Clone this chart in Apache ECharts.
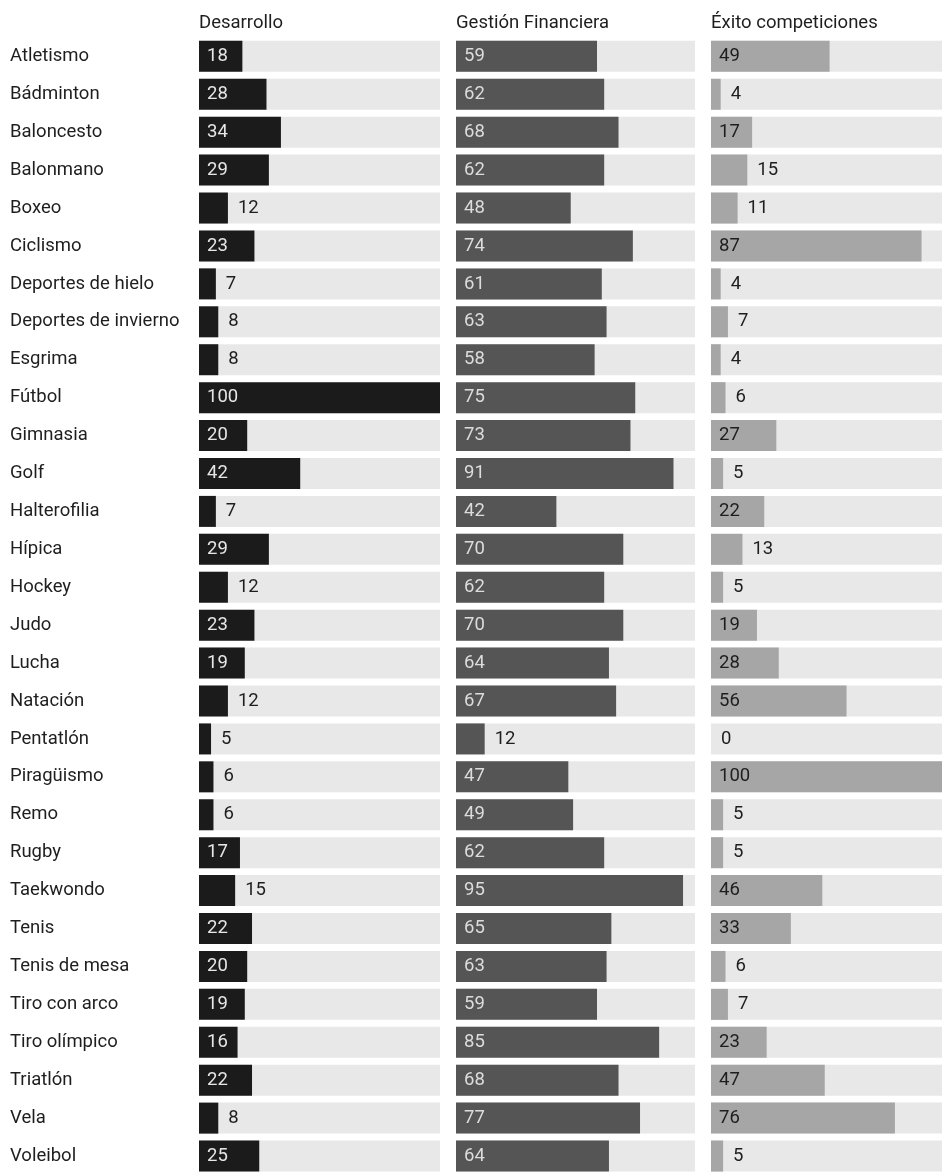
<!DOCTYPE html>
<html><head><meta charset="utf-8">
<script src="https://cdn.jsdelivr.net/npm/echarts@6/dist/echarts.min.js"></script>
<style>html,body{margin:0;padding:0;background:#fff}#c{width:942px;height:1175px}</style>
</head><body><div id="c"></div>
<script>
const categories = ["Atletismo","Bádminton","Baloncesto","Balonmano","Boxeo","Ciclismo","Deportes de hielo","Deportes de invierno","Esgrima","Fútbol","Gimnasia","Golf","Halterofilia","Hípica","Hockey","Judo","Lucha","Natación","Pentatlón","Piragüismo","Remo","Rugby","Taekwondo","Tenis","Tenis de mesa","Tiro con arco","Tiro olímpico","Triatlón","Vela","Voleibol"];
const desarrollo = [18,28,34,29,12,23,7,8,8,100,20,42,7,29,12,23,19,12,5,6,6,17,15,22,20,19,16,22,8,25];
const gestion = [59,62,68,62,48,74,61,63,58,75,73,91,42,70,62,70,64,67,12,47,49,62,95,65,63,59,85,68,77,64];
const exito = [49,4,17,15,11,87,4,7,4,6,27,5,22,13,5,19,28,56,0,100,5,5,46,33,6,7,23,47,76,5];
const headers = ["Desarrollo","Gestión Financiera","Éxito competiciones"];

const FONT = 'Roboto, "Noto Sans", sans-serif';
const colLefts = [199, 456, 711];
const colWidths = [241, 239, 231];
// third column is cut off by the canvas edge: 231px visible of a 242px full scale
const axisMax = [100, 100, 100 * 231 / 242];
const barColors = ['#1b1b1b', '#555555', '#a6a6a6'];
const insideColors = ['#e6e6e6', '#dcdcdc', '#1e1e1e'];
const seriesVals = [desarrollo, gestion, exito];
const TOP = 37.4, HEIGHT = 1147.2;

const grids = [], xAxes = [], yAxes = [], series = [], titles = [];
for (let i = 0; i < 3; i++) {
  grids.push({left: colLefts[i], top: TOP, width: colWidths[i], height: HEIGHT, containLabel: false});
  xAxes.push({type: 'value', gridIndex: i, min: 0, max: axisMax[i], show: false});
  yAxes.push({
    type: 'category', gridIndex: i, data: categories, inverse: true,
    axisLine: {show: false}, axisTick: {show: false}, splitLine: {show: false},
    axisLabel: i === 0 ? {show: true, align: 'left', margin: 189, fontSize: 18.5, color: '#1e1e1e', fontFamily: FONT, padding: [3, 0, 0, 0]} : {show: false}
  });
  const vals = seriesVals[i];
  series.push({
    type: 'bar', xAxisIndex: i, yAxisIndex: i, barWidth: 31, barCategoryGap: 0,
    showBackground: true, backgroundStyle: {color: '#e8e8e8'},
    itemStyle: {color: barColors[i]}, clip: true,
    silent: true, animation: false,
    data: vals.map(v => {
      const inside = v >= 16;
      return {
        value: v,
        label: {
          show: true,
          position: inside ? 'insideLeft' : 'right',
          distance: inside ? 8 : 10,
          color: inside ? insideColors[i] : '#1e1e1e',
          fontSize: 18.5, fontFamily: FONT, padding: [3, 0, 0, 0]
        }
      };
    })
  });
  titles.push({text: headers[i], left: colLefts[i], top: 14, padding: 0,
    textStyle: {fontSize: 18.5, fontWeight: 'normal', color: '#1e1e1e', fontFamily: FONT}});
}

const chart = echarts.init(document.getElementById('c'), null, {renderer: 'canvas'});
chart.setOption({
  animation: false,
  backgroundColor: '#ffffff',
  title: titles,
  grid: grids,
  xAxis: xAxes,
  yAxis: yAxes,
  series: series
});
</script>
</body></html>
